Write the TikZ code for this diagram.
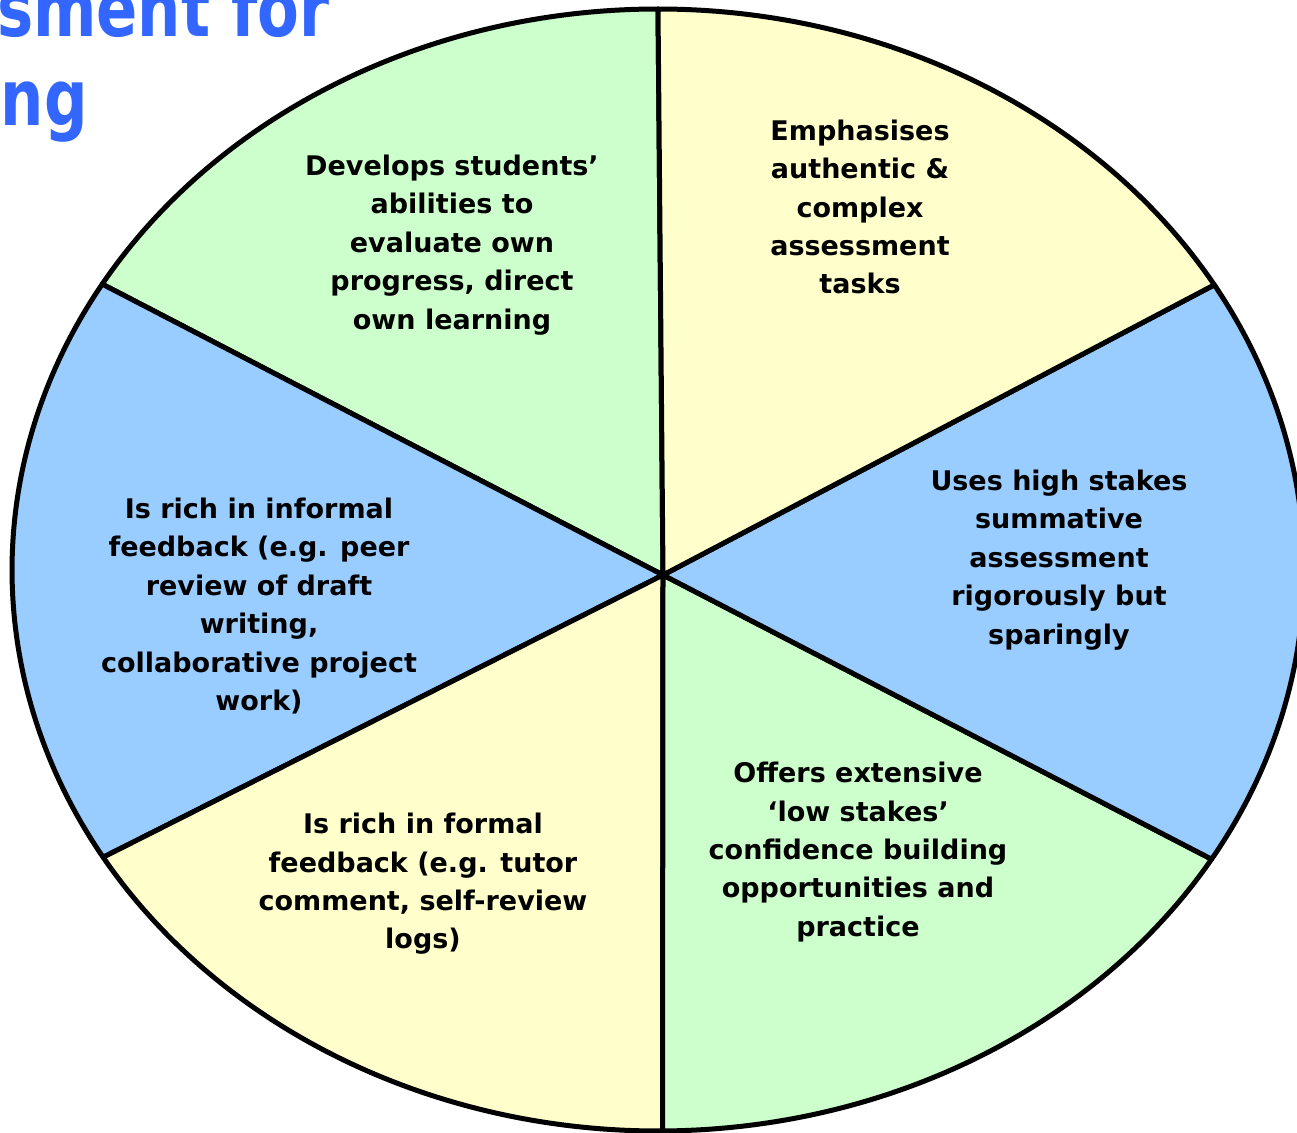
\documentclass[tikz,border=0pt]{standalone}
\usepackage{fontspec}
\usepackage{graphicx}
\setmainfont{DejaVu Sans}
\definecolor{pgreen}{HTML}{CCFFCC}
\definecolor{pyellow}{HTML}{FFFFCC}
\definecolor{pblue}{HTML}{99CCFF}
\definecolor{tblue}{HTML}{3366FF}
\begin{document}
\begin{tikzpicture}[x=1pt,y=-1pt,
  sector/.style={draw=black, line width=5pt, line join=round},
  lbl/.style={align=center, inner sep=0pt, font=\fontsize{27}{38.4}\selectfont\bfseries},
  ttl/.style={inner sep=0pt, text=tblue, font=\fontsize{78}{78}\selectfont\bfseries}]
\useasboundingbox (0,0) rectangle (1297,1132);
\clip (0,0) rectangle (1297,1132);
\coordinate (C) at (663,575);
\begin{scope}[shift={(658,570)}, x=646pt, y=561pt]
  \filldraw[sector, fill=pgreen]  (C) -- (90:1) arc[start angle=90, end angle=149.36, radius=1] -- cycle;
  \filldraw[sector, fill=pblue]   (C) -- (149.36:1) arc[start angle=149.36, end angle=210.8, radius=1] -- cycle;
  \filldraw[sector, fill=pyellow] (C) -- (210.8:1) arc[start angle=210.8, end angle=270.4, radius=1] -- cycle;
  \filldraw[sector, fill=pgreen]  (C) -- (-89.6:1) arc[start angle=-89.6, end angle=-31.03, radius=1] -- cycle;
  \filldraw[sector, fill=pblue]   (C) -- (-31.03:1) arc[start angle=-31.03, end angle=30.55, radius=1] -- cycle;
  \filldraw[sector, fill=pyellow] (C) -- (30.55:1) arc[start angle=30.55, end angle=90, radius=1] -- cycle;
\end{scope}
\node[ttl, anchor=base east] (title1) at (330,37) {\scalebox{0.78}[1]{sment for}};
\node[ttl, anchor=base east] (title2) at (88,125) {\scalebox{0.78}[1]{ng}};
\node[lbl] (t1) at (452,245) {Develops students’\\abilities to\\evaluate own\\progress, direct\\own learning};
\node[lbl] (t2) at (860,207) {Emphasises\\authentic \&\\complex\\assessment\\tasks};
\node[lbl] (t3) at (1059,560) {Uses high stakes\\summative\\assessment\\rigorously but\\sparingly};
\node[lbl] (t4) at (858,852) {Offers extensive\\‘low stakes’\\confidence building\\opportunities and\\practice};
\node[lbl] (t5) at (423,884) {Is rich in formal\\feedback (e.g. tutor\\comment, self-review\\logs)};
\node[lbl] (t6) at (259,606) {Is rich in informal\\feedback (e.g. peer\\review of draft\\writing,\\collaborative project\\work)};
\end{tikzpicture}
\end{document}
